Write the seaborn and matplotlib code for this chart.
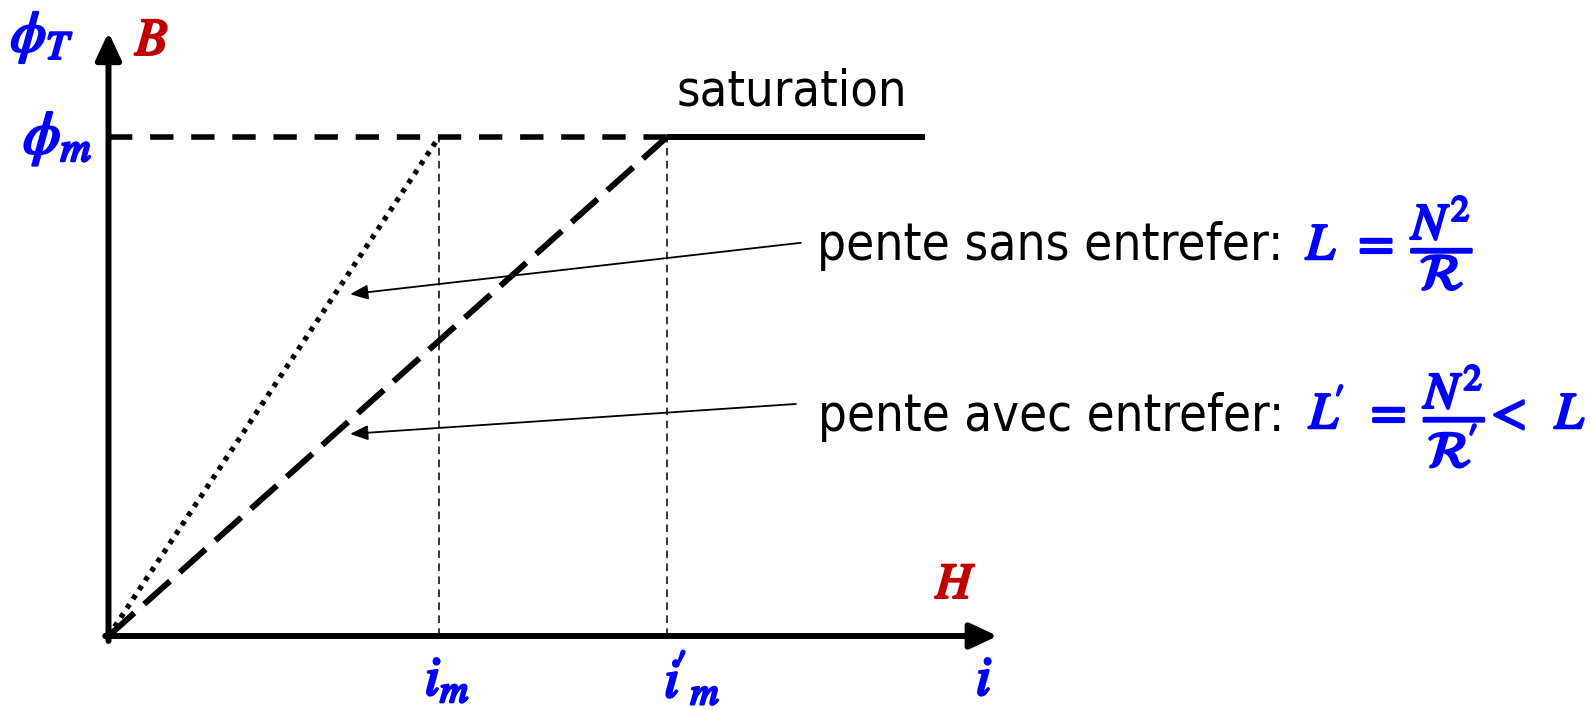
import matplotlib
matplotlib.use("Agg")
import matplotlib.pyplot as plt
import matplotlib.patheffects as pe
from matplotlib import font_manager as fm
import seaborn as sns

# ---- data (arbitrary units) ----
phi_m = 1.0            # saturation flux level
i_m = 1.0              # current at saturation, no air gap
i_m_prime = 1.69       # current at saturation, with air gap
i_sat_end = 2.47       # end of drawn saturation plateau
x_axis_end = 2.69
y_axis_end = 1.21

curve_sans_x = [0.0, i_m]
curve_sans_y = [0.0, phi_m]
curve_avec_x = [0.0, i_m_prime]
curve_avec_y = [0.0, phi_m]
sat_x = [i_m_prime, i_sat_end]
sat_y = [phi_m, phi_m]
ref_x = [0.0, i_m_prime]
ref_y = [phi_m, phi_m]

BLUE = "#0000FF"
RED = "#C00000"

sns.set_style("white")
plt.rcParams["font.family"] = ["DejaVu Sans"]
plt.rcParams["mathtext.fontset"] = "stix"

# pick a narrow sans font if available (reference uses a Tahoma-like face)
fp_text = fm.FontProperties(family="DejaVu Sans")
for f in fm.fontManager.ttflist:
    fn = f.fname.replace("\\", "/").split("/")[-1]
    if fn in ("DejaVuSansCondensed.ttf", "LiberationSansNarrow-Regular.ttf"):
        fp_text = fm.FontProperties(fname=f.fname)
        if fn.startswith("DejaVu"):
            break

W, H = 1590, 710
fig = plt.figure(figsize=(W / 100, H / 100), dpi=100)
ox, oy = 108.5, 636.0
ux, uy = 330.5, 499.0
ax = fig.add_axes([ox / W, (H - oy) / H, x_axis_end * ux / W, y_axis_end * uy / H])
ax.set_xlim(0, x_axis_end)
ax.set_ylim(0, y_axis_end)
for s in ax.spines.values():
    s.set_visible(False)
ax.set_xticks([])
ax.set_yticks([])
ax.patch.set_alpha(0)

# guide lines
sns.lineplot(x=ref_x, y=ref_y, ax=ax, color="black", lw=4.0,
             linestyle=(0, (4.2, 3.2)), estimator=None, sort=False)
for xv in (i_m, i_m_prime):
    sns.lineplot(x=[xv, xv], y=[0, phi_m], ax=ax, color="black", lw=1.1,
                 linestyle=(0, (5, 3.5)), estimator=None, sort=False)

# curves
sns.lineplot(x=curve_sans_x, y=curve_sans_y, ax=ax, color="black", lw=3.8,
             linestyle=(0, (0.9, 1.2)), estimator=None, sort=False)
sns.lineplot(x=curve_avec_x, y=curve_avec_y, ax=ax, color="black", lw=4.3,
             linestyle=(0, (5.8, 2.2)), estimator=None, sort=False)
sns.lineplot(x=sat_x, y=sat_y, ax=ax, color="black", lw=4.3,
             estimator=None, sort=False, solid_capstyle="butt")

# axes with arrows
akw = dict(arrowstyle="-|>,head_length=0.75,head_width=0.35", lw=4.3,
           color="black", mutation_scale=22, shrinkA=0, shrinkB=0)
ax.annotate("", xy=(x_axis_end, 0), xytext=(-0.01, 0), arrowprops=akw,
            annotation_clip=False)
ax.annotate("", xy=(0, y_axis_end), xytext=(0, -0.01), arrowprops=akw,
            annotation_clip=False)

# pointer arrows
pkw = dict(arrowstyle="-|>,head_length=0.6,head_width=0.25", lw=1.3,
           color="black", mutation_scale=18, shrinkA=0, shrinkB=0)
ax.annotate("", xy=(0.731, 0.685), xytext=(2.095, 0.788), arrowprops=pkw)
ax.annotate("", xy=(0.731, 0.405), xytext=(2.080, 0.465), arrowprops=pkw)

renderer = fig.canvas.get_renderer()

def ptext(x, y, s, bold=False, **kw):
    t = fig.text(x / W, 1 - y / H, s, **kw)
    if bold:
        t.set_path_effects([pe.withStroke(linewidth=1.9, foreground=kw.get("color", "black"))])
    return t

def fit_text(x_left, y_base, s, width, **kw):
    t = fig.text(x_left / W, 1 - y_base / H, s, fontproperties=fp_text,
                 ha="left", va="baseline", **kw)
    t.set_fontsize(30)
    w = t.get_window_extent(renderer).width
    t.set_fontsize(30 * width / w)
    return t

# axis labels (bold italic math)
ptext(42, 38, r"$\phi_T$", bold=True, color=BLUE, fontsize=41, ha="center", va="center")
ptext(152, 40, r"$B$", bold=True, color=RED, fontsize=38, ha="center", va="center")
ptext(92, 139, r"$\phi_m$", bold=True, color=BLUE, fontsize=43, ha="right", va="center")
ptext(956, 584, r"$H$", bold=True, color=RED, fontsize=36, ha="center", va="center")
ptext(447, 680, r"$i_m$", bold=True, color=BLUE, fontsize=40, ha="center", va="center")
ptext(692, 680, r"$i^{\!\!\prime}{}_{m}$", bold=True, color=BLUE, fontsize=40,
      ha="center", va="center")
ptext(984, 680, r"$i$", bold=True, color=BLUE, fontsize=40, ha="center", va="center")

# texts
fit_text(677, 105, "saturation", 230, color="black")
fit_text(817, 260, "pente sans entrefer:", 466, color="black")
fit_text(818, 431, "pente avec entrefer:", 466, color="black")
ptext(1306, 259, r"$L\;\,=\;\dfrac{N^2}{\mathcal{R}}$", bold=True, color=BLUE,
      fontsize=37, ha="left", va="baseline")
ptext(1309, 428, r"$L^{\!\!\prime}\;\,=\;\dfrac{N^2}{\mathcal{R}^{\!\prime}}\!<\;\;L$",
      bold=True, color=BLUE, fontsize=37, ha="left", va="baseline")

fig.savefig("out.png", dpi=100)
